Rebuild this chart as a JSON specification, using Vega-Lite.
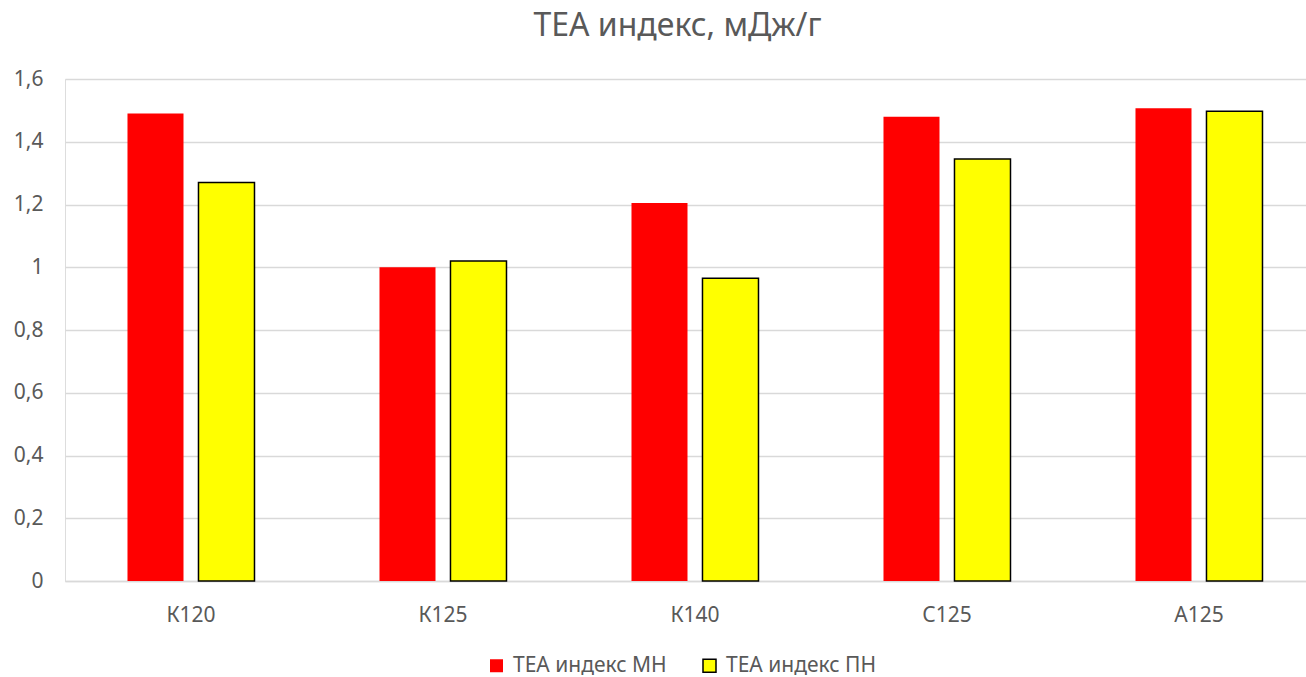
{
  "$schema": "https://vega.github.io/schema/vega-lite/v6.json",
  "autosize": {"type": "none"},
  "padding": {"left": 65, "top": 79, "right": 0, "bottom": 96},
  "width": 1241,
  "height": 502,
  "background": "#ffffff",
  "title": {
    "text": "TEA индекс, мДж/г",
    "font": "Noto Sans",
    "fontSize": 32,
    "fontWeight": "normal",
    "color": "#595959",
    "anchor": "middle",
    "dx": -8,
    "offset": 25
  },
  "data": {
    "values": [
      {"cat": "К120", "series": "TEA индекс МН", "value": 1.49},
      {"cat": "К120", "series": "TEA индекс ПН", "value": 1.27},
      {"cat": "К125", "series": "TEA индекс МН", "value": 1.0},
      {"cat": "К125", "series": "TEA индекс ПН", "value": 1.02},
      {"cat": "К140", "series": "TEA индекс МН", "value": 1.205},
      {"cat": "К140", "series": "TEA индекс ПН", "value": 0.965},
      {"cat": "С125", "series": "TEA индекс МН", "value": 1.48},
      {"cat": "С125", "series": "TEA индекс ПН", "value": 1.345},
      {"cat": "А125", "series": "TEA индекс МН", "value": 1.507},
      {"cat": "А125", "series": "TEA индекс ПН", "value": 1.497}
    ]
  },
  "mark": {"type": "bar", "strokeWidth": 1.5},
  "encoding": {
    "x": {
      "field": "cat",
      "type": "nominal",
      "sort": ["К120", "К125", "К140", "С125", "А125"],
      "scale": {"paddingInner": 0.4, "paddingOuter": 0.1623, "align": 0.616},
      "axis": {
        "title": null,
        "labelAngle": 0,
        "labelFont": "Noto Sans",
        "labelFontSize": 21,
        "labelColor": "#595959",
        "labelPadding": 23,
        "ticks": false,
        "domain": true,
        "domainColor": "#d9d9d9",
        "domainWidth": 1.5
      }
    },
    "xOffset": {
      "field": "series",
      "type": "nominal",
      "scale": {"paddingInner": 0.211, "paddingOuter": 0.1704}
    },
    "y": {
      "field": "value",
      "type": "quantitative",
      "scale": {"domain": [0, 1.6], "nice": false},
      "axis": {
        "title": null,
        "values": [0, 0.2, 0.4, 0.6, 0.8, 1, 1.2, 1.4, 1.6],
        "labelExpr": "replace(format(datum.value, '.1~f'), '.', ',')",
        "labelFont": "Noto Sans",
        "labelFontSize": 21,
        "labelColor": "#595959",
        "labelPadding": 22,
        "ticks": false,
        "domain": false,
        "grid": true,
        "gridColor": "#d9d9d9",
        "gridWidth": 1.5
      }
    },
    "color": {
      "field": "series",
      "type": "nominal",
      "scale": {"range": ["#ff0000", "#ffff00"]},
      "legend": {
        "title": null,
        "orient": "none",
        "legendX": 421,
        "legendY": 576,
        "padding": 0,
        "direction": "horizontal",
        "symbolType": "square",
        "symbolSize": 169,
        "symbolStrokeWidth": 1.5,
        "labelFont": "Noto Sans",
        "labelFontSize": 21,
        "labelColor": "#595959",
        "labelOffset": 6,
        "columnPadding": 32
      }
    },
    "stroke": {
      "field": "series",
      "type": "nominal",
      "scale": {"range": ["transparent", "#000000"]}
    }
  }
}
